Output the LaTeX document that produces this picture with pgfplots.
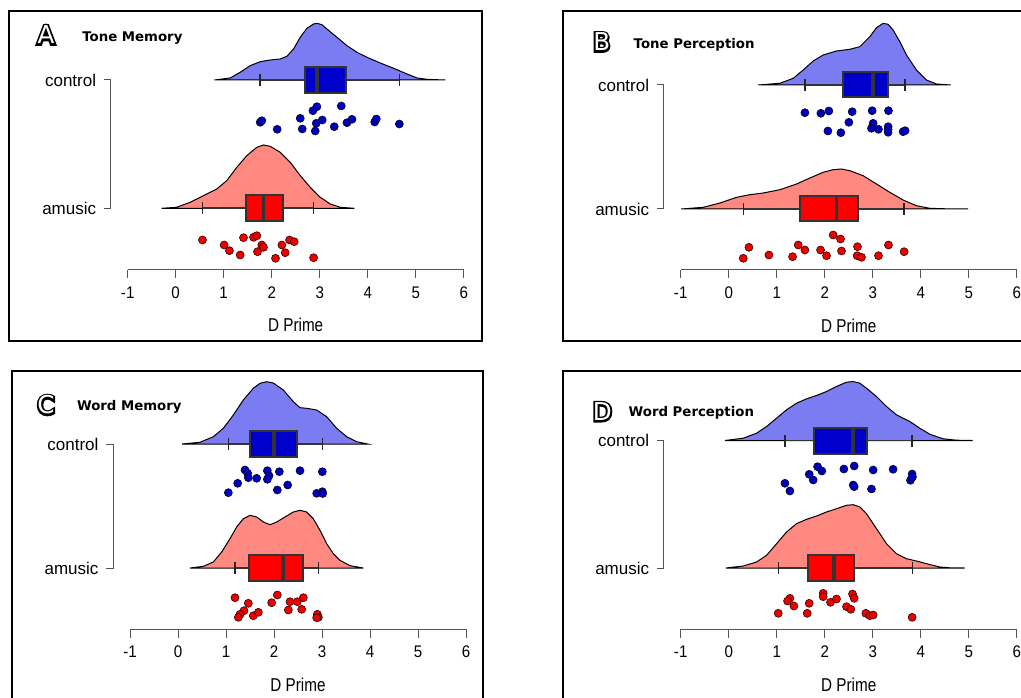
\documentclass[border=0pt]{standalone}
\usepackage{pgfplots}
\pgfplotsset{compat=1.18}
\usepackage{pgfplotstable}
\usepackage{fontspec}
\setmainfont{Liberation Sans}
\newfontfamily\tickfam{Liberation Sans}[FakeStretch=0.9]
\newfontfamily\dpfam{Liberation Sans}[FakeStretch=0.82]
\newfontfamily\titlefam{DejaVu Sans}
\newfontfamily\letterbold{DejaVu Sans}[FakeBold=16]
\newfontfamily\letterthin{DejaVu Sans}
\newcommand{\tickfnt}{\tickfam\fontsize{8.4}{10}\selectfont}
\newcommand{\dpfnt}{\dpfam\fontsize{9.3}{11}\selectfont}
\newcommand{\lblfnt}{\fontsize{8.5}{10}\selectfont}
\newcommand{\ttlfnt}{\titlefam\bfseries\fontsize{6.65}{8}\selectfont}

\definecolor{cfill}{HTML}{7B7BF2}
\definecolor{cbox}{HTML}{0000CC}
\definecolor{cpt}{HTML}{0000BB}
\definecolor{cptl}{HTML}{000030}
\definecolor{afill}{HTML}{FF8880}
\definecolor{abox}{HTML}{FF0000}
\definecolor{apt}{HTML}{EE0000}
\definecolor{aptl}{HTML}{300000}
\definecolor{boxline}{HTML}{333333}
\definecolor{axgray}{HTML}{555555}

% densities: x = D prime, h = height in px above the row baseline
\pgfplotstableread{
x h
0.807 0
1.134 2
1.343 7.7
1.551 14.3
1.760 18.3
1.969 20
2.177 21
2.316 23.7
2.455 31
2.594 42.7
2.733 51.7
2.872 56
2.942 56.7
3.046 55.3
3.150 51
3.359 42.7
3.568 34.3
3.776 27.7
3.985 22.7
4.263 17
4.541 11.7
4.819 6
5.028 2
5.25 0.6
5.62 0
}\denAc
\pgfplotstableread{
x h
-0.291 0
0.021 1
0.300 6
0.578 12.7
0.856 19.3
1.064 27.7
1.273 41
1.482 52.7
1.690 61
1.829 63.3
1.968 62
2.177 56
2.386 46
2.594 32.7
2.803 21
3.011 11
3.220 4.3
3.429 1
3.721 0
}\denAa
\pgfplotstableread{
x h
0.616 0
1.067 1.7
1.344 6.7
1.552 15
1.760 24
1.968 30
2.246 34
2.523 35.7
2.731 38.3
2.940 48.3
3.078 57.3
3.217 61.7
3.321 60.7
3.425 55
3.564 43.3
3.703 30
3.911 15
4.119 5
4.327 1
4.625 0
}\denBc
\pgfplotstableread{
x h
-0.990 0
-0.529 1.7
-0.182 6
0.165 11.7
0.442 14.3
0.720 16
1.067 19.3
1.413 25
1.691 31
1.968 36.7
2.176 39.3
2.350 40
2.523 38.3
2.801 33.3
3.078 25
3.356 16.7
3.633 9
3.911 3.3
4.188 0.7
4.600 0.1
4.990 0
}\denBa
\pgfplotstableread{
x h
0.085 0
0.458 1.7
0.736 7.3
0.944 15.7
1.153 29
1.361 44
1.569 55.7
1.708 60.7
1.847 62.3
1.986 61
2.194 54
2.403 42.3
2.542 36.3
2.681 35.7
2.889 34
3.097 27.3
3.306 15.7
3.514 7.3
3.722 2.3
3.950 0
}\denCc
\pgfplotstableread{
x h
0.255 0
0.528 1.7
0.736 6
0.910 16
1.083 29.3
1.222 41
1.361 49.3
1.500 52.7
1.639 51
1.778 46
1.917 43.3
2.056 46
2.229 51
2.403 56
2.542 57.7
2.681 56
2.819 49.3
2.958 37.7
3.097 24.3
3.236 14.3
3.375 7.7
3.583 2.3
3.861 0
}\denCa
\pgfplotstableread{
x h
-0.078 0
0.303 2.3
0.581 7.3
0.789 14
0.997 22.3
1.205 30.7
1.413 37.3
1.622 41.7
1.830 45
2.038 49
2.246 54
2.454 58.3
2.593 59
2.732 57.3
2.870 52.3
3.078 44
3.287 34
3.495 25.7
3.772 19
3.980 12.3
4.188 6.3
4.466 1.7
4.743 0.3
5.080 0
}\denDc
\pgfplotstableread{
x h
-0.057 0
0.303 2
0.581 6
0.789 12.7
0.997 24.3
1.205 36
1.413 44.3
1.622 48.7
1.830 52
2.038 56
2.246 59.3
2.454 62.7
2.593 63.3
2.732 61
2.870 54.3
3.009 44.3
3.148 34.3
3.287 24.3
3.495 14.3
3.703 9.3
3.911 7
4.119 4.3
4.397 1
4.605 0.2
4.917 0
}\denDa

\pgfplotsset{rain/.style={hide axis, clip=false, x=24pt, y=0.5pt,
  xmin=-1, xmax=6, ymin=-150, ymax=200, anchor=south west}}

% #1 row y, #2 box bottom, #3 box top, #4 w1, #5 q1, #6 median, #7 q3, #8 w2, #9 colour
\newcommand{\rbox}[9]{%
  \addplot[draw=boxline, line width=0.8pt] coordinates {(#4,#1) (#5,#1)};
  \addplot[draw=boxline, line width=0.8pt] coordinates {(#7,#1) (#8,#1)};
  \addplot[only marks, mark=|, mark size=3pt, mark options={draw=black!85, line width=0.75pt}] coordinates {(#4,#1) (#8,#1)};
  \addplot[fill=#9, draw=boxline, line width=1pt] coordinates {(#5,#2) (#7,#2) (#7,#3) (#5,#3)} -- cycle;
  \addplot[draw=boxline, line width=1.9pt] coordinates {(#6,#2) (#6,#3)};
}
% #1 control row y, #2 axis line y, #3 tick label y, #4 axis title y, #5 tick end y
\newcommand{\decor}[5]{%
  \draw[axgray, line width=0.5pt] (axis cs:-1,#2) -- (axis cs:6,#2);
  \pgfplotsinvokeforeach{-1,0,1,2,3,4,5,6}{%
    \draw[axgray, line width=0.5pt] (axis cs:##1,#2) -- (axis cs:##1,#5);
    \node[font=\tickfnt, inner sep=0pt] at (axis cs:##1,#3) {##1};}
  \node[font=\dpfnt, inner sep=0pt] at (axis cs:2.5,#4) {D Prime};
  \draw[axgray, line width=0.5pt] (axis cs:-1.5,#1) -- (axis cs:-1.35,#1) -- (axis cs:-1.35,0) -- (axis cs:-1.5,0);
  \node[anchor=east, inner sep=0pt, font=\lblfnt] at (axis cs:-1.65,#1) {control};
  \node[anchor=east, inner sep=0pt, font=\lblfnt] at (axis cs:-1.65,0) {amusic};
}
\newcommand{\hollow}[2]{%
  \node[text=black, font=\letterbold\fontsize{12.3}{14}\selectfont, inner sep=0pt] at #1 {#2};
  \node[text=white, font=\letterthin\fontsize{12.3}{14}\selectfont, inner sep=0pt] at #1 {#2};
}

\begin{document}
\begin{tikzpicture}
\path[use as bounding box] (0,0) rectangle (510.5pt,348.5pt);
\clip (0,0) rectangle (510.5pt,348.5pt);

\begin{scope}[x=0.5pt, y=-0.5pt, yshift=348.5pt]
  \draw[line width=1pt] (9.3,10.7) rectangle (481.7,341.3);
  \draw[line width=1pt] (562.7,10.7) rectangle (1040,341.3);
  \draw[line width=1pt] (11.7,370.7) rectangle (482.7,720);
  \draw[line width=1pt] (562.7,370.7) rectangle (1040,720);
  \hollow{(46,35)}{A}
  \hollow{(601.7,42)}{B}
  \hollow{(46,405)}{C}
  \hollow{(602.3,411.7)}{D}
  \node[anchor=base west, inner sep=0pt, font=\ttlfnt] at (82,41.5) {Tone Memory};
  \node[anchor=base west, inner sep=0pt, font=\ttlfnt] at (633.3,48.3) {Tone Perception};
  \node[anchor=base west, inner sep=0pt, font=\ttlfnt] at (76.7,410) {Word Memory};
  \node[anchor=base west, inner sep=0pt, font=\ttlfnt] at (628.3,416.7) {Word Perception};
\end{scope}

% ---------------- A: Tone Memory
\begin{axis}[rain, at={(63.85pt,169.35pt)}]
  \addplot[fill=cfill, draw=black, line width=0.5pt] table[x=x, y expr=\thisrow{h}+128.3] {\denAc} -- cycle;
  \rbox{128.3}{115.3}{141.3}{1.760}{2.684}{2.942}{3.554}{4.666}{cbox}
  \addplot[only marks, mark=*, mark size=2pt, mark options={fill=cpt, draw=cptl, line width=0.3pt}] coordinates {
    (1.760,86.0) (1.794,87.6) (2.114,79.0) (2.594,90.0) (2.636,79.3) (2.858,97.6) (2.942,101.6) (3.449,102.3) (2.928,85.0) (3.053,88.3) (2.907,77.3) (3.303,81.6) (3.568,85.6) (3.672,89.0) (4.145,86.3) (4.179,89.3) (4.659,84.3)};
  \addplot[fill=afill, draw=black, line width=0.5pt] table[x=x, y=h] {\denAa} -- cycle;
  \rbox{0}{-13}{13}{0.557}{1.461}{1.829}{2.225}{2.872}{abox}
  \addplot[only marks, mark=*, mark size=2pt, mark options={fill=apt, draw=aptl, line width=0.3pt}] coordinates {
    (0.557,-31.7) (1.009,-36.7) (1.120,-42.4) (1.343,-46.7) (1.412,-29.4) (1.621,-29) (1.690,-27.4) (1.794,-36.7) (1.829,-39) (1.704,-43.4) (2.079,-50) (2.212,-36.7) (2.281,-44.4) (2.372,-31.7) (2.469,-33.4) (2.872,-49.4)};
  \decor{128.3}{-61.7}{-84.5}{-117}{-70}
\end{axis}

% ---------------- B: Tone Perception
\begin{axis}[rain, at={(340.35pt,169pt)}]
  \addplot[fill=cfill, draw=black, line width=0.5pt] table[x=x, y expr=\thisrow{h}+124] {\denBc} -- cycle;
  \rbox{124}{111.5}{136.5}{1.587}{2.371}{3.009}{3.321}{3.668}{cbox}
  \addplot[only marks, mark=*, mark size=2pt, mark options={fill=cpt, draw=cptl, line width=0.3pt}] coordinates {
    (1.587,96.3) (1.920,95.7) (2.086,98) (2.572,97.3) (2.988,98.3) (3.328,98.3) (2.503,86.7) (2.066,78) (2.336,76.3) (3.009,85.7) (2.974,80.7) (3.120,79.7) (3.321,82.3) (3.321,76.7) (3.321,79.5) (3.633,77.3) (3.675,78.3)};
  \addplot[fill=afill, draw=black, line width=0.5pt] table[x=x, y=h] {\denBa} -- cycle;
  \rbox{0}{-12.5}{12.5}{0.303}{1.483}{2.246}{2.683}{3.654}{abox}
  \addplot[only marks, mark=*, mark size=2pt, mark options={fill=apt, draw=aptl, line width=0.3pt}] coordinates {
    (2.176,-26) (2.329,-30) (0.421,-38.3) (0.303,-49.3) (0.838,-46) (1.330,-47.7) (1.448,-36) (1.587,-41) (1.913,-41) (2.038,-46.7) (2.350,-42) (2.683,-37.7) (2.676,-46.7) (2.766,-48.3) (3.120,-46.7) (3.328,-36) (3.654,-42.7)};
  \decor{124}{-61}{-84}{-116.5}{-69.3}
\end{axis}

% ---------------- C: Word Memory
\begin{axis}[rain, at={(65pt,-10.5pt)}]
  \addplot[fill=cfill, draw=black, line width=0.5pt] table[x=x, y expr=\thisrow{h}+124] {\denCc} -- cycle;
  \rbox{124}{111.2}{136.8}{1.049}{1.5}{2.0}{2.486}{3.007}{cbox}
  \addplot[only marks, mark=*, mark size=2pt, mark options={fill=cpt, draw=cptl, line width=0.3pt}] coordinates {
    (1.396,98) (1.451,94.7) (1.465,90.3) (1.639,89.7) (1.861,97.3) (1.896,92.3) (1.861,88.7) (2.111,96.3) (2.542,97.3) (3.007,96.3) (1.243,84.7) (1.049,75.3) (2.069,78) (2.285,83) (2.889,74.7) (3.007,76.3) (3.014,74.5)};
  \addplot[fill=afill, draw=black, line width=0.5pt] table[x=x, y=h] {\denCa} -- cycle;
  \rbox{0}{-12.8}{12.8}{1.1875}{1.486}{2.181}{2.611}{2.924}{abox}
  \addplot[only marks, mark=*, mark size=2pt, mark options={fill=apt, draw=aptl, line width=0.3pt}] coordinates {
    (1.1875,-29.7) (1.465,-35.3) (1.375,-42.7) (1.292,-46.3) (1.257,-49.3) (1.569,-47.7) (1.674,-44.3) (1.951,-34.7) (2.069,-27) (2.333,-33.7) (2.486,-33.7) (2.611,-29.7) (2.299,-42) (2.576,-41.3) (2.903,-46.3) (2.924,-49.3) (2.889,-49.7)};
  \decor{124}{-61.3}{-84}{-116.5}{-69.6}
\end{axis}

% ---------------- D: Word Perception
\begin{axis}[rain, at={(340.35pt,-10.5pt)}]
  \addplot[fill=cfill, draw=black, line width=0.5pt] table[x=x, y expr=\thisrow{h}+127.5] {\denDc} -- cycle;
  \rbox{127.5}{114.5}{140.5}{1.171}{1.781}{2.593}{2.891}{3.821}{cbox}
  \addplot[only marks, mark=*, mark size=2pt, mark options={fill=cpt, draw=cptl, line width=0.3pt}] coordinates {
    (1.851,101.3) (1.941,97) (1.677,93.7) (1.760,88) (1.171,84.7) (1.275,77) (2.399,99) (2.614,102) (3.009,98) (3.425,98.7) (3.821,94) (3.786,87.7) (2.593,83) (2.614,81.3) (2.974,79) (3.828,91)};
  \addplot[fill=afill, draw=black, line width=0.5pt] table[x=x, y=h] {\denDa} -- cycle;
  \rbox{0}{-13}{13}{1.032}{1.642}{2.190}{2.614}{3.828}{abox}
  \addplot[only marks, mark=*, mark size=2pt, mark options={fill=apt, draw=aptl, line width=0.3pt}] coordinates {
    (1.968,-25.3) (1.968,-28.7) (1.275,-30.3) (1.226,-33) (1.358,-38) (1.677,-35.3) (1.032,-45.3) (1.635,-45.3) (2.121,-34.3) (2.246,-31) (2.579,-26) (2.614,-30.3) (2.454,-38.7) (2.544,-41.3) (2.857,-45.3) (2.940,-47.7) (3.009,-47) (3.821,-49.3)};
  \decor{127.5}{-61.3}{-84}{-116.5}{-69.6}
\end{axis}
\end{tikzpicture}
\end{document}
